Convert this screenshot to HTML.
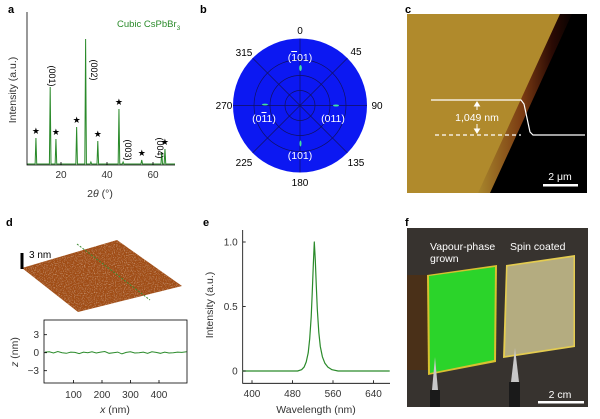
<!DOCTYPE html>
<html><head><meta charset="utf-8">
<style>
html,body{margin:0;padding:0;background:#fff;}
svg{display:block;font-family:"Liberation Sans",sans-serif;}
</style></head>
<body>
<svg id="fig" width="600" height="419" viewBox="0 0 600 419" xmlns="http://www.w3.org/2000/svg">
<defs>
  <filter id="afmNoise" x="0" y="0" width="100%" height="100%">
    <feTurbulence type="fractalNoise" baseFrequency="0.9" numOctaves="2" seed="3" result="n"/>
    <feColorMatrix in="n" type="matrix" values="0 0 0 0 0.88  0 0 0 0 0.6  0 0 0 0 0.33  1.4 0 0 0 -0.72" result="spk"/>
    <feComposite in="spk" in2="SourceGraphic" operator="in" result="s2"/>
    <feMerge><feMergeNode in="SourceGraphic"/><feMergeNode in="s2"/></feMerge>
  </filter>
  <linearGradient id="edgeGrad" x1="0" y1="0" x2="1" y2="0">
    <stop offset="0" stop-color="#a8862c"/>
    <stop offset="0.45" stop-color="#7a3a12"/>
    <stop offset="0.75" stop-color="#2a0a04"/>
    <stop offset="1" stop-color="#000"/>
  </linearGradient>
</defs>

<!-- Panel labels -->
<g font-weight="bold" font-size="11" fill="#000">
  <text x="8" y="13">a</text>
  <text x="200" y="13">b</text>
  <text x="405" y="13">c</text>
  <text x="6" y="226">d</text>
  <text x="203" y="226">e</text>
  <text x="405" y="226">f</text>
</g>

<!-- Panel a -->
<g id="panelA"></g>

<!-- Panel b: pole figure -->
<g>
  <circle cx="300" cy="105.5" r="67" fill="#0c18f2"/>
  <g stroke="#101060" stroke-width="0.7" fill="none">
    <circle cx="300" cy="105.5" r="15"/>
    <circle cx="300" cy="105.5" r="30"/>
    <circle cx="300" cy="105.5" r="46"/>
    <line x1="300" y1="38.5" x2="300" y2="172.5"/>
    <line x1="233" y1="105.5" x2="367" y2="105.5"/>
    <line x1="252.6" y1="58.1" x2="347.4" y2="152.9"/>
    <line x1="347.4" y1="58.1" x2="252.6" y2="152.9"/>
  </g>
  <g fill="#40e0a0">
    <ellipse cx="300.5" cy="68" rx="1.3" ry="3"/>
    <ellipse cx="300.5" cy="143.5" rx="1" ry="3"/>
    <ellipse cx="265" cy="104.5" rx="3" ry="0.9"/>
    <ellipse cx="336" cy="105.5" rx="3" ry="1"/>
  </g>
  <g fill="#fff" font-size="10.5" text-anchor="middle">
    <text x="300" y="61">(<tspan text-decoration="overline">1</tspan>01)</text>
    <text x="264" y="122">(0<tspan text-decoration="overline">1</tspan>1)</text>
    <text x="333" y="122">(011)</text>
    <text x="300" y="159">(101)</text>
  </g>
  <g fill="#000" font-size="10" text-anchor="middle">
    <text x="300" y="34">0</text>
    <text x="356" y="55">45</text>
    <text x="377" y="109">90</text>
    <text x="356" y="166">135</text>
    <text x="300" y="186">180</text>
    <text x="244" y="166">225</text>
    <text x="224" y="109">270</text>
    <text x="244" y="56">315</text>
  </g>
</g>

<!-- Panel c: AFM step image -->
<g>
  <rect x="407" y="14" width="180" height="179" fill="#b08a2c"/>
  <polygon points="560,14 577,14 495,193 478,193" fill="url(#edgeGrad)"/>
  <polygon points="572,14 587,14 587,193 490,193" fill="#000"/>
  <polyline points="431,100 521,100 524,104 530,132 533,135 585,135" fill="none" stroke="#fff" stroke-width="1.2"/>
  <line x1="435" y1="135" x2="521" y2="135" stroke="#fff" stroke-width="1.2" stroke-dasharray="4,3"/>
  <g stroke="#fff" stroke-width="1" fill="#fff">
    <line x1="477" y1="104" x2="477" y2="110"/><polygon points="474.5,106 479.5,106 477,102"/>
    <line x1="477" y1="124" x2="477" y2="131"/><polygon points="474.5,129 479.5,129 477,133"/>
  </g>
  <text x="477" y="121" fill="#fff" font-size="10.5" text-anchor="middle">1,049 nm</text>
  <rect x="543" y="184" width="35" height="2.5" fill="#fff"/>
  <text x="560" y="180" fill="#fff" font-size="10.5" text-anchor="middle">2 μm</text>
</g>

<!-- Panel d: 3D AFM surface -->
<g>
  <polygon points="22,268 117,240 182,286 78,312" fill="#a04e16" filter="url(#afmNoise)"/>
  <line x1="77" y1="244" x2="150" y2="300" stroke="#3a8a30" stroke-width="1" stroke-dasharray="2,1.5"/>
  <rect x="20.5" y="253" width="3" height="16" fill="#000"/>
  <text x="29" y="258" font-size="10" fill="#000">3 nm</text>
</g>
<g id="panelD"></g>

<!-- Panel e -->
<g id="panelE"></g>

<!-- Panel f: photo -->
<g>
  <rect x="407" y="228" width="181" height="179" fill="#37332f"/>
  <rect x="407" y="275" width="22" height="95" fill="#4a3018"/>
  <polygon points="427,275 497,265 496,362 428,375" fill="#d8c030"/>
  <polygon points="429,276 495,267 494,360 430,373" fill="#2bd42a"/>
  <polygon points="506,265 575,255 575,347 503,358" fill="#e4cc50"/>
  <polygon points="507.5,266.5 573.5,257 573.5,345.5 505,356" fill="#b4ac80"/>
  <polygon points="435,357 432,390 438,390" fill="#c8c8c8"/>
  <rect x="430" y="390" width="10" height="17" fill="#1a1a1a"/>
  <polygon points="515,348 511,382 519,382" fill="#c8c8c8"/>
  <rect x="509" y="382" width="11" height="25" fill="#1a1a1a"/>
  <g fill="#fff" font-size="10.5">
    <text x="430" y="250">Vapour-phase</text>
    <text x="430" y="262">grown</text>
    <text x="510" y="250">Spin coated</text>
    <text x="560" y="398" text-anchor="middle">2 cm</text>
  </g>
  <rect x="538" y="401" width="46" height="2.5" fill="#fff"/>
</g>

<script>
// ---- Panel a data ----
var xrdPeakPos = [9.1, 15.3, 17.8, 26.8, 30.7, 33.0, 36.0, 45.2, 47.0, 55.1, 63.8, 65.2];
var xrdPeakHeight = [26, 77, 25, 37, 125, 2, 23, 55, 2, 4, 12, 15];
var xrdStarPeaks = [0, 2, 3, 6, 7, 9, 11];
var xrdTicks = [20, 40, 60];

// ---- Panel d data ----
var profX = [0,15,30,45,60,75,90,105,120,135,150,165,180,195,210,225,240,255,270,285,300,315,330,345,360,375,390,405,420,435,450,465,480,497];
var profZ = [0.1,0.15,-0.05,0.2,0.0,-0.1,0.1,0.05,-0.15,0.1,0.0,0.15,-0.05,0.1,0.2,-0.1,0.0,0.1,-0.2,0.05,0.15,-0.05,0.0,0.1,-0.1,0.15,0.05,-0.1,0.1,-0.05,0.0,0.1,0.05,0.15];
var dXTicks = [100, 200, 300, 400];
var dYTicks = [3, 0, -3];
var dYTickLabels = ["3", "0", "\u22123"];

// ---- Panel e data ----
var plWave = [381, 450, 490, 498, 503, 507, 511, 514, 517, 519, 521, 523, 525, 527, 529, 532, 535, 539, 544, 550, 558, 570, 600, 672];
var plInt = [0, 0, 0.0, 0.01, 0.03, 0.07, 0.14, 0.25, 0.42, 0.6, 0.82, 1.0, 0.86, 0.66, 0.48, 0.3, 0.19, 0.11, 0.06, 0.03, 0.01, 0.0, 0, 0];
var eXTicks = [400, 480, 560, 640];
var eYTicks = [0, 0.5, 1.0];
var eYTickLabels = ["0", "0.5", "1.0"];

var NS = "http://www.w3.org/2000/svg";
function mk(parent, tag, attrs, text) {
  var e = document.createElementNS(NS, tag);
  for (var k in attrs) e.setAttribute(k, attrs[k]);
  if (text !== undefined) e.textContent = text;
  parent.appendChild(e);
  return e;
}

// ---------- Panel A ----------
(function(){
  var g = document.getElementById('panelA');
  var x0 = 27, x1 = 175, yb = 165;
  function sx(v){ return 15 + v * 2.3; }
  function sy(v){ return yb - 1 - v; }
  var d = "M" + x0 + "," + sy(0);
  for (var i = 0; i < xrdPeakPos.length; i++) {
    var px = sx(xrdPeakPos[i]);
    d += " L" + (px - 0.8) + "," + sy(0) + " L" + px + "," + sy(xrdPeakHeight[i]) + " L" + (px + 0.8) + "," + sy(0);
  }
  d += " L" + x1 + "," + sy(0);
  var line = mk(g, 'path', {d: d, fill: 'none', stroke: '#2a8a2a', 'stroke-width': 1});
  
  
  var ax = mk(g, 'path', {d: 'M' + x0 + ',12 L' + x0 + ',' + yb + ' L' + x1 + ',' + yb, fill: 'none', stroke: '#000', 'stroke-width': 0.8});
  
  
  for (var t = 0; t < xrdTicks.length; t++) {
    var tx = sx(xrdTicks[t]);
    mk(g, 'line', {x1: tx, y1: yb, x2: tx, y2: yb - 3, stroke: '#000', 'stroke-width': 0.8});
    var tl = mk(g, 'text', {x: tx, y: yb + 13, 'font-size': 10, 'text-anchor': 'middle', fill: '#333'}, xrdTicks[t]);
    
    
  }
  for (var s = 0; s < xrdStarPeaks.length; s++) {
    var k = xrdStarPeaks[s];
    var st = mk(g, 'text', {x: sx(xrdPeakPos[k]), y: sy(xrdPeakHeight[k]) - 4, 'font-size': 9, 'text-anchor': 'middle', fill: '#000'}, '\u2605');
    
    
  }
  var labs = [["(001)", 49, 76], ["(002)", 91, 70], ["(003)", 125, 150], ["(004)", 157, 148]];
  for (var j = 0; j < labs.length; j++) {
    var lt = mk(g, 'text', {x: labs[j][1], y: labs[j][2], 'font-size': 9, 'text-anchor': 'middle', fill: '#000', transform: 'rotate(90 ' + labs[j][1] + ' ' + labs[j][2] + ')'}, labs[j][0]);
    
    
  }
  var ti = mk(g, 'text', {x: 117, y: 27, 'font-size': 9.5, fill: '#2a8a2a'}, 'Cubic CsPbBr');
  mk(ti, 'tspan', {'font-size': 6.5, dy: 3}, '3');
  
  
  var xl = mk(g, 'text', {x: 100, y: 197, 'font-size': 10.5, 'text-anchor': 'middle', fill: '#333'}, '2');
  mk(xl, 'tspan', {'font-style': 'italic'}, '\u03b8');
  mk(xl, 'tspan', {}, ' (\u00b0)');
  
  
  var yl = mk(g, 'text', {x: 16, y: 90, 'font-size': 10.5, 'text-anchor': 'middle', fill: '#333', transform: 'rotate(-90 16 90)'}, 'Intensity (a.u.)');
  
  
})();

// ---------- Panel D ----------
(function(){
  var g = document.getElementById('panelD');
  var L = 44, R = 187, T = 320, B = 383;
  function sx(v){ return 45 + v * 0.285; }
  function sy(v){ return 352.7 - v * 6; }
  var fr = mk(g, 'rect', {x: L, y: T, width: R - L, height: B - T, fill: 'none', stroke: '#000', 'stroke-width': 0.8});
  
  
  var d = '';
  for (var i = 0; i < profX.length; i++) d += (i ? ' L' : 'M') + sx(profX[i]).toFixed(1) + ',' + sy(profZ[i]).toFixed(1);
  var ln = mk(g, 'path', {d: d, fill: 'none', stroke: '#2a8a2a', 'stroke-width': 1});
  
  
  for (var t = 0; t < dXTicks.length; t++) {
    var x = sx(dXTicks[t]);
    mk(g, 'line', {x1: x, y1: B, x2: x, y2: B - 3, stroke: '#000', 'stroke-width': 0.8});
    var tl = mk(g, 'text', {x: x, y: 398, 'font-size': 10, 'text-anchor': 'middle', fill: '#333'}, dXTicks[t]);
    
    
  }
  for (var u = 0; u < dYTicks.length; u++) {
    var y = sy(dYTicks[u]);
    mk(g, 'line', {x1: L, y1: y, x2: L + 3, y2: y, stroke: '#000', 'stroke-width': 0.8});
    var yl = mk(g, 'text', {x: L - 5, y: y + 3.5, 'font-size': 10, 'text-anchor': 'end', fill: '#333'}, dYTickLabels[u]);
    
    
  }
  var xt = mk(g, 'text', {x: 115, y: 413, 'font-size': 10.5, 'text-anchor': 'middle', fill: '#333'});
  mk(xt, 'tspan', {'font-style': 'italic'}, 'x');
  mk(xt, 'tspan', {}, ' (nm)');
  
  
  var ytt = mk(g, 'text', {x: 18, y: 352, 'font-size': 10.5, 'text-anchor': 'middle', fill: '#333', transform: 'rotate(-90 18 352)'});
  mk(ytt, 'tspan', {'font-style': 'italic'}, 'z');
  mk(ytt, 'tspan', {}, ' (nm)');
  
  
})();

// ---------- Panel E ----------
(function(){
  var g = document.getElementById('panelE');
  var L = 242.7, R = 390, T = 230, B = 383.3;
  function sx(v){ return 252 + (v - 400) * 40.5 / 80; }
  function sy(v){ return 371 - v * 129; }
  var ax = mk(g, 'path', {d: 'M' + L + ',' + T + ' L' + L + ',' + B + ' L' + R + ',' + B, fill: 'none', stroke: '#000', 'stroke-width': 0.8});
  
  
  var d = '';
  for (var i = 0; i < plWave.length; i++) d += (i ? ' L' : 'M') + sx(plWave[i]).toFixed(1) + ',' + sy(plInt[i]).toFixed(1);
  var ln = mk(g, 'path', {d: d, fill: 'none', stroke: '#2a8a2a', 'stroke-width': 1.2, 'stroke-linejoin': 'round'});
  
  
  for (var t = 0; t < eXTicks.length; t++) {
    var x = sx(eXTicks[t]);
    mk(g, 'line', {x1: x, y1: B, x2: x, y2: B - 3, stroke: '#000', 'stroke-width': 0.8});
    var tl = mk(g, 'text', {x: x, y: 397, 'font-size': 10, 'text-anchor': 'middle', fill: '#333'}, eXTicks[t]);
    
    
  }
  for (var u = 0; u < eYTicks.length; u++) {
    var y = sy(eYTicks[u]);
    mk(g, 'line', {x1: L, y1: y, x2: L + 3, y2: y, stroke: '#000', 'stroke-width': 0.8});
    var yl = mk(g, 'text', {x: L - 5, y: y + 3.5, 'font-size': 10, 'text-anchor': 'end', fill: '#333'}, eYTickLabels[u]);
    
    
  }
  var xt = mk(g, 'text', {x: 316, y: 413, 'font-size': 10.5, 'text-anchor': 'middle', fill: '#333'}, 'Wavelength (nm)');
  
  
  var ytt = mk(g, 'text', {x: 213, y: 305, 'font-size': 10.5, 'text-anchor': 'middle', fill: '#333', transform: 'rotate(-90 213 305)'}, 'Intensity (a.u.)');
  
  
})();
</script>
</svg>
</body></html>
